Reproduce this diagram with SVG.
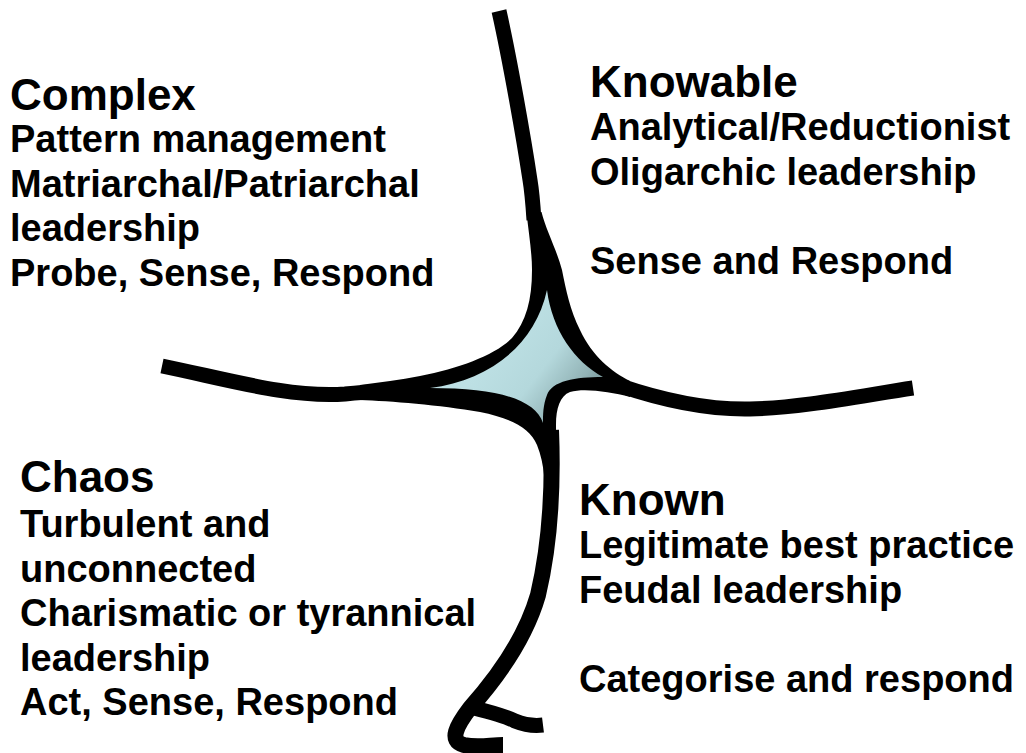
<svg xmlns="http://www.w3.org/2000/svg" width="1026" height="753" viewBox="0 0 1026 753">
  <defs>
    <style>
      .title { font-family: "Liberation Sans", Arial, sans-serif; font-weight: bold; font-size: 44px; fill: #000; }
      .body { font-family: "Liberation Sans", Arial, sans-serif; font-weight: bold; font-size: 38px; fill: #000; }
      .line { fill: none; stroke: #000; stroke-width: 15; stroke-linecap: butt; stroke-linejoin: round; }
    </style>
    <linearGradient id="centreFill" gradientUnits="userSpaceOnUse" x1="500" y1="340" x2="590" y2="410">
      <stop offset="0" stop-color="#bde0e4"/>
      <stop offset="0.45" stop-color="#b4d8dc"/>
      <stop offset="0.78" stop-color="#92b3b6"/>
      <stop offset="1" stop-color="#6e8c90"/>
    </linearGradient>
  </defs>
  <rect width="1026" height="753" fill="#ffffff"/>

  <g id="connectors">
    <path class="line" d="M499,11 C510,60 524,140 530,180 C532,192 533,205 534,220"/>
    <path class="line" d="M162,366 C230,380 290,398 345,394 C355,393 365,392 372,392"/>
    <path class="line" d="M618,385 C650,396 700,410 750,409 C800,408 860,396 913,388"/>
    <path class="line" style="stroke-width:16" d="M551,430 C553,480 551,540 538,595 C525,640 495,680 470,708 C457,725 448,741 464,745 C478,748 490,745 503,745"/>
    <path class="line" d="M474,708 C490,712 505,716 515,721 C525,725 535,726 543,725"/>
  </g>

  <g id="centre">
    <path fill="#000" d="M526.5,212 C528.5,232 532,252 532,270 C532,300 526,322 512,338 C495,355 460,368 420,376 C400,380 380,382 360,385 L360,400 C390,401 440,405 480,412 C510,418 530,428 537,445 C541,455 543,465 544,475 L558,475 C557,460 556,445 556,425 C556,408 560,396 570,392 C585,388 610,392 630,397 L630,381 C612,372 592,356 580,330 C570,310 566,290 562,270 C556,248 546,230 541.5,212 Z"/>
    <path fill="url(#centreFill)" d="M547,290 C552,330 575,362 603,377 C575,377 552,381 547,395 C543,405 543,415 543,423 C535,400 500,388 430,388 C490,380 535,345 547,290 Z"/>
  </g>

  <g id="complex">
    <text class="title" x="10" y="110">Complex</text>
    <text class="body" x="10" y="152">Pattern management</text>
    <text class="body" x="10" y="196.5">Matriarchal/Patriarchal</text>
    <text class="body" x="10" y="241">leadership</text>
    <text class="body" x="10" y="285.5">Probe, Sense, Respond</text>
  </g>

  <g id="knowable">
    <text class="title" x="590" y="97">Knowable</text>
    <text class="body" x="590" y="140">Analytical/Reductionist</text>
    <text class="body" x="590" y="184.5">Oligarchic leadership</text>
    <text class="body" x="590" y="273.5">Sense and Respond</text>
  </g>

  <g id="chaos">
    <text class="title" x="20" y="492">Chaos</text>
    <text class="body" x="20" y="537">Turbulent and</text>
    <text class="body" x="20" y="581.5">unconnected</text>
    <text class="body" x="20" y="626">Charismatic or tyrannical</text>
    <text class="body" x="20" y="670.5">leadership</text>
    <text class="body" x="20" y="715">Act, Sense, Respond</text>
  </g>

  <g id="known">
    <text class="title" x="579" y="515">Known</text>
    <text class="body" x="579" y="558">Legitimate best practice</text>
    <text class="body" x="579" y="602.5">Feudal leadership</text>
    <text class="body" x="579" y="691.5">Categorise and respond</text>
  </g>
</svg>
